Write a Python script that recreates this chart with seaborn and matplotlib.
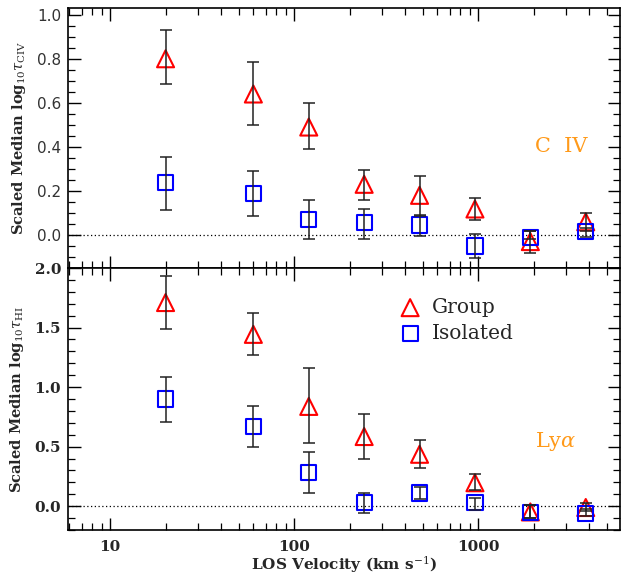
import numpy as np
import pandas as pd
import matplotlib
matplotlib.use("Agg")
import matplotlib.pyplot as plt
import seaborn as sns
from matplotlib.ticker import FixedLocator, FixedFormatter, MultipleLocator, LogLocator, NullFormatter

# ---- data ----
velocity = [20, 60, 120, 240, 480, 960, 1920, 3840]
x_ticks = [10, 100, 1000]
x_ticklabels = ["10", "100", "1000"]

civ_group = [0.80, 0.64, 0.49, 0.23, 0.18, 0.118, -0.03, 0.06]
civ_group_lo = [0.685, 0.50, 0.39, 0.16, 0.085, 0.066, -0.08, 0.02]
civ_group_hi = [0.93, 0.786, 0.60, 0.295, 0.27, 0.17, 0.02, 0.10]
civ_iso = [0.237, 0.19, 0.071, 0.055, 0.045, -0.05, -0.01, 0.015]
civ_iso_lo = [0.114, 0.087, -0.016, -0.016, -0.004, -0.105, -0.02, -0.01]
civ_iso_hi = [0.355, 0.29, 0.16, 0.12, 0.09, 0.005, 0.02, 0.03]

hi_group = [1.71, 1.443, 0.838, 0.585, 0.436, 0.197, -0.048, -0.011]
hi_group_lo = [1.49, 1.27, 0.53, 0.40, 0.32, 0.135, -0.095, -0.04]
hi_group_hi = [1.935, 1.626, 1.162, 0.776, 0.557, 0.267, 0.014, 0.028]
hi_iso = [0.90, 0.67, 0.28, 0.028, 0.11, 0.028, -0.056, -0.062]
hi_iso_lo = [0.706, 0.495, 0.107, -0.056, 0.06, -0.028, -0.095, -0.084]
hi_iso_hi = [1.083, 0.838, 0.453, 0.11, 0.16, 0.065, 0.009, -0.02]

SERIF = ["DejaVu Serif"]
ORANGE = "#FF9A1A"

sns.set_theme(style="ticks")
plt.rcParams["font.family"] = SERIF
plt.rcParams["mathtext.fontset"] = "dejavuserif"

fig = plt.figure(figsize=(6.21, 5.78), dpi=100)
ax_top = fig.add_axes([0.1095, 0.5363, 0.889, 0.4497])
ax_bot = fig.add_axes([0.1095, 0.0830, 0.889, 0.4533])


def draw_panel(ax, g, glo, ghi, i, ilo, ihi):
    df = pd.DataFrame({"v": velocity * 2,
                       "val": list(g) + list(i),
                       "kind": ["Group"] * len(g) + ["Isolated"] * len(i)})
    g = np.array(g); i = np.array(i)
    ax.errorbar(velocity, g, yerr=[g - np.array(glo), np.array(ghi) - g],
                fmt="none", ecolor="#222222", elinewidth=1.1, capsize=4, capthick=1.1, zorder=3)
    ax.errorbar(velocity, i, yerr=[i - np.array(ilo), np.array(ihi) - i],
                fmt="none", ecolor="#222222", elinewidth=1.1, capsize=4, capthick=1.1, zorder=3)
    sns.scatterplot(data=df[df.kind == "Group"], x="v", y="val", ax=ax, marker="^", s=150,
                    facecolor="none", edgecolor="red", linewidth=1.5, zorder=2, label="Group",
                    legend=False)
    sns.scatterplot(data=df[df.kind == "Isolated"], x="v", y="val", ax=ax, marker="s", s=120,
                    facecolor="none", edgecolor="blue", linewidth=1.5, zorder=2, label="Isolated",
                    legend=False)
    ax.axhline(0, color="black", ls=(0, (1, 2)), lw=0.9, zorder=1)
    ax.set_xscale("log")
    ax.set_xlim(5.9, 5900)
    ax.xaxis.set_major_locator(FixedLocator(x_ticks))
    ax.xaxis.set_major_formatter(FixedFormatter(x_ticklabels))
    ax.xaxis.set_minor_locator(LogLocator(base=10, subs=np.arange(2, 10), numticks=20))
    ax.xaxis.set_minor_formatter(NullFormatter())
    ax.tick_params(which="both", direction="in", top=True, right=True, color="black")
    ax.tick_params(which="major", length=9, width=1.0)
    ax.tick_params(which="minor", length=5, width=0.9)
    ax.set_xlabel("")
    for s in ax.spines.values():
        s.set_linewidth(1.2)
        s.set_color("black")


draw_panel(ax_top, civ_group, civ_group_lo, civ_group_hi, civ_iso, civ_iso_lo, civ_iso_hi)
draw_panel(ax_bot, hi_group, hi_group_lo, hi_group_hi, hi_iso, hi_iso_lo, hi_iso_hi)

ax_top.set_ylim(-0.15, 1.03)
ax_top.yaxis.set_major_locator(MultipleLocator(0.2))
ax_top.yaxis.set_minor_locator(MultipleLocator(0.05))
ax_top.tick_params(axis="x", labelbottom=False)
ax_top.tick_params(axis="y", labelsize=11, labelcolor="#333333", pad=5)
for lab in ax_top.get_yticklabels():
    lab.set_family(["DejaVu Sans"])

ax_bot.set_ylim(-0.2, 2.0)
ax_bot.yaxis.set_major_locator(MultipleLocator(0.5))
ax_bot.yaxis.set_minor_locator(MultipleLocator(0.1))
ax_bot.tick_params(axis="both", labelsize=11, pad=5)
ax_bot.tick_params(axis="x", pad=7)
for lab in ax_bot.get_xticklabels() + ax_bot.get_yticklabels():
    lab.set_fontweight("bold")

ax_top.set_ylabel(r"Scaled Median log$_{10}\tau_{\rm CIV}$", fontsize=10.5, fontweight="bold", labelpad=6)
ax_bot.set_ylabel(r"Scaled Median log$_{10}\tau_{\rm HI}$", fontsize=10.5, fontweight="bold", labelpad=6)
ax_bot.set_xlabel(r"LOS Velocity (km s$^{-1}$)", fontsize=11, fontweight="bold", labelpad=0)

ax_top.text(0.893, 0.467, "C  IV", transform=ax_top.transAxes, color=ORANGE, fontsize=15,
            ha="center", va="center")
ax_bot.text(0.884, 0.336, r"Ly$\alpha$", transform=ax_bot.transAxes, color=ORANGE, fontsize=15,
            ha="center", va="center")

leg = ax_bot.legend(loc="upper left", bbox_to_anchor=(0.565, 0.955), frameon=False,
                    fontsize=14.5, handletextpad=0.5, labelspacing=0.35, handlelength=1.2)

fig.savefig("out.png", dpi=100)
